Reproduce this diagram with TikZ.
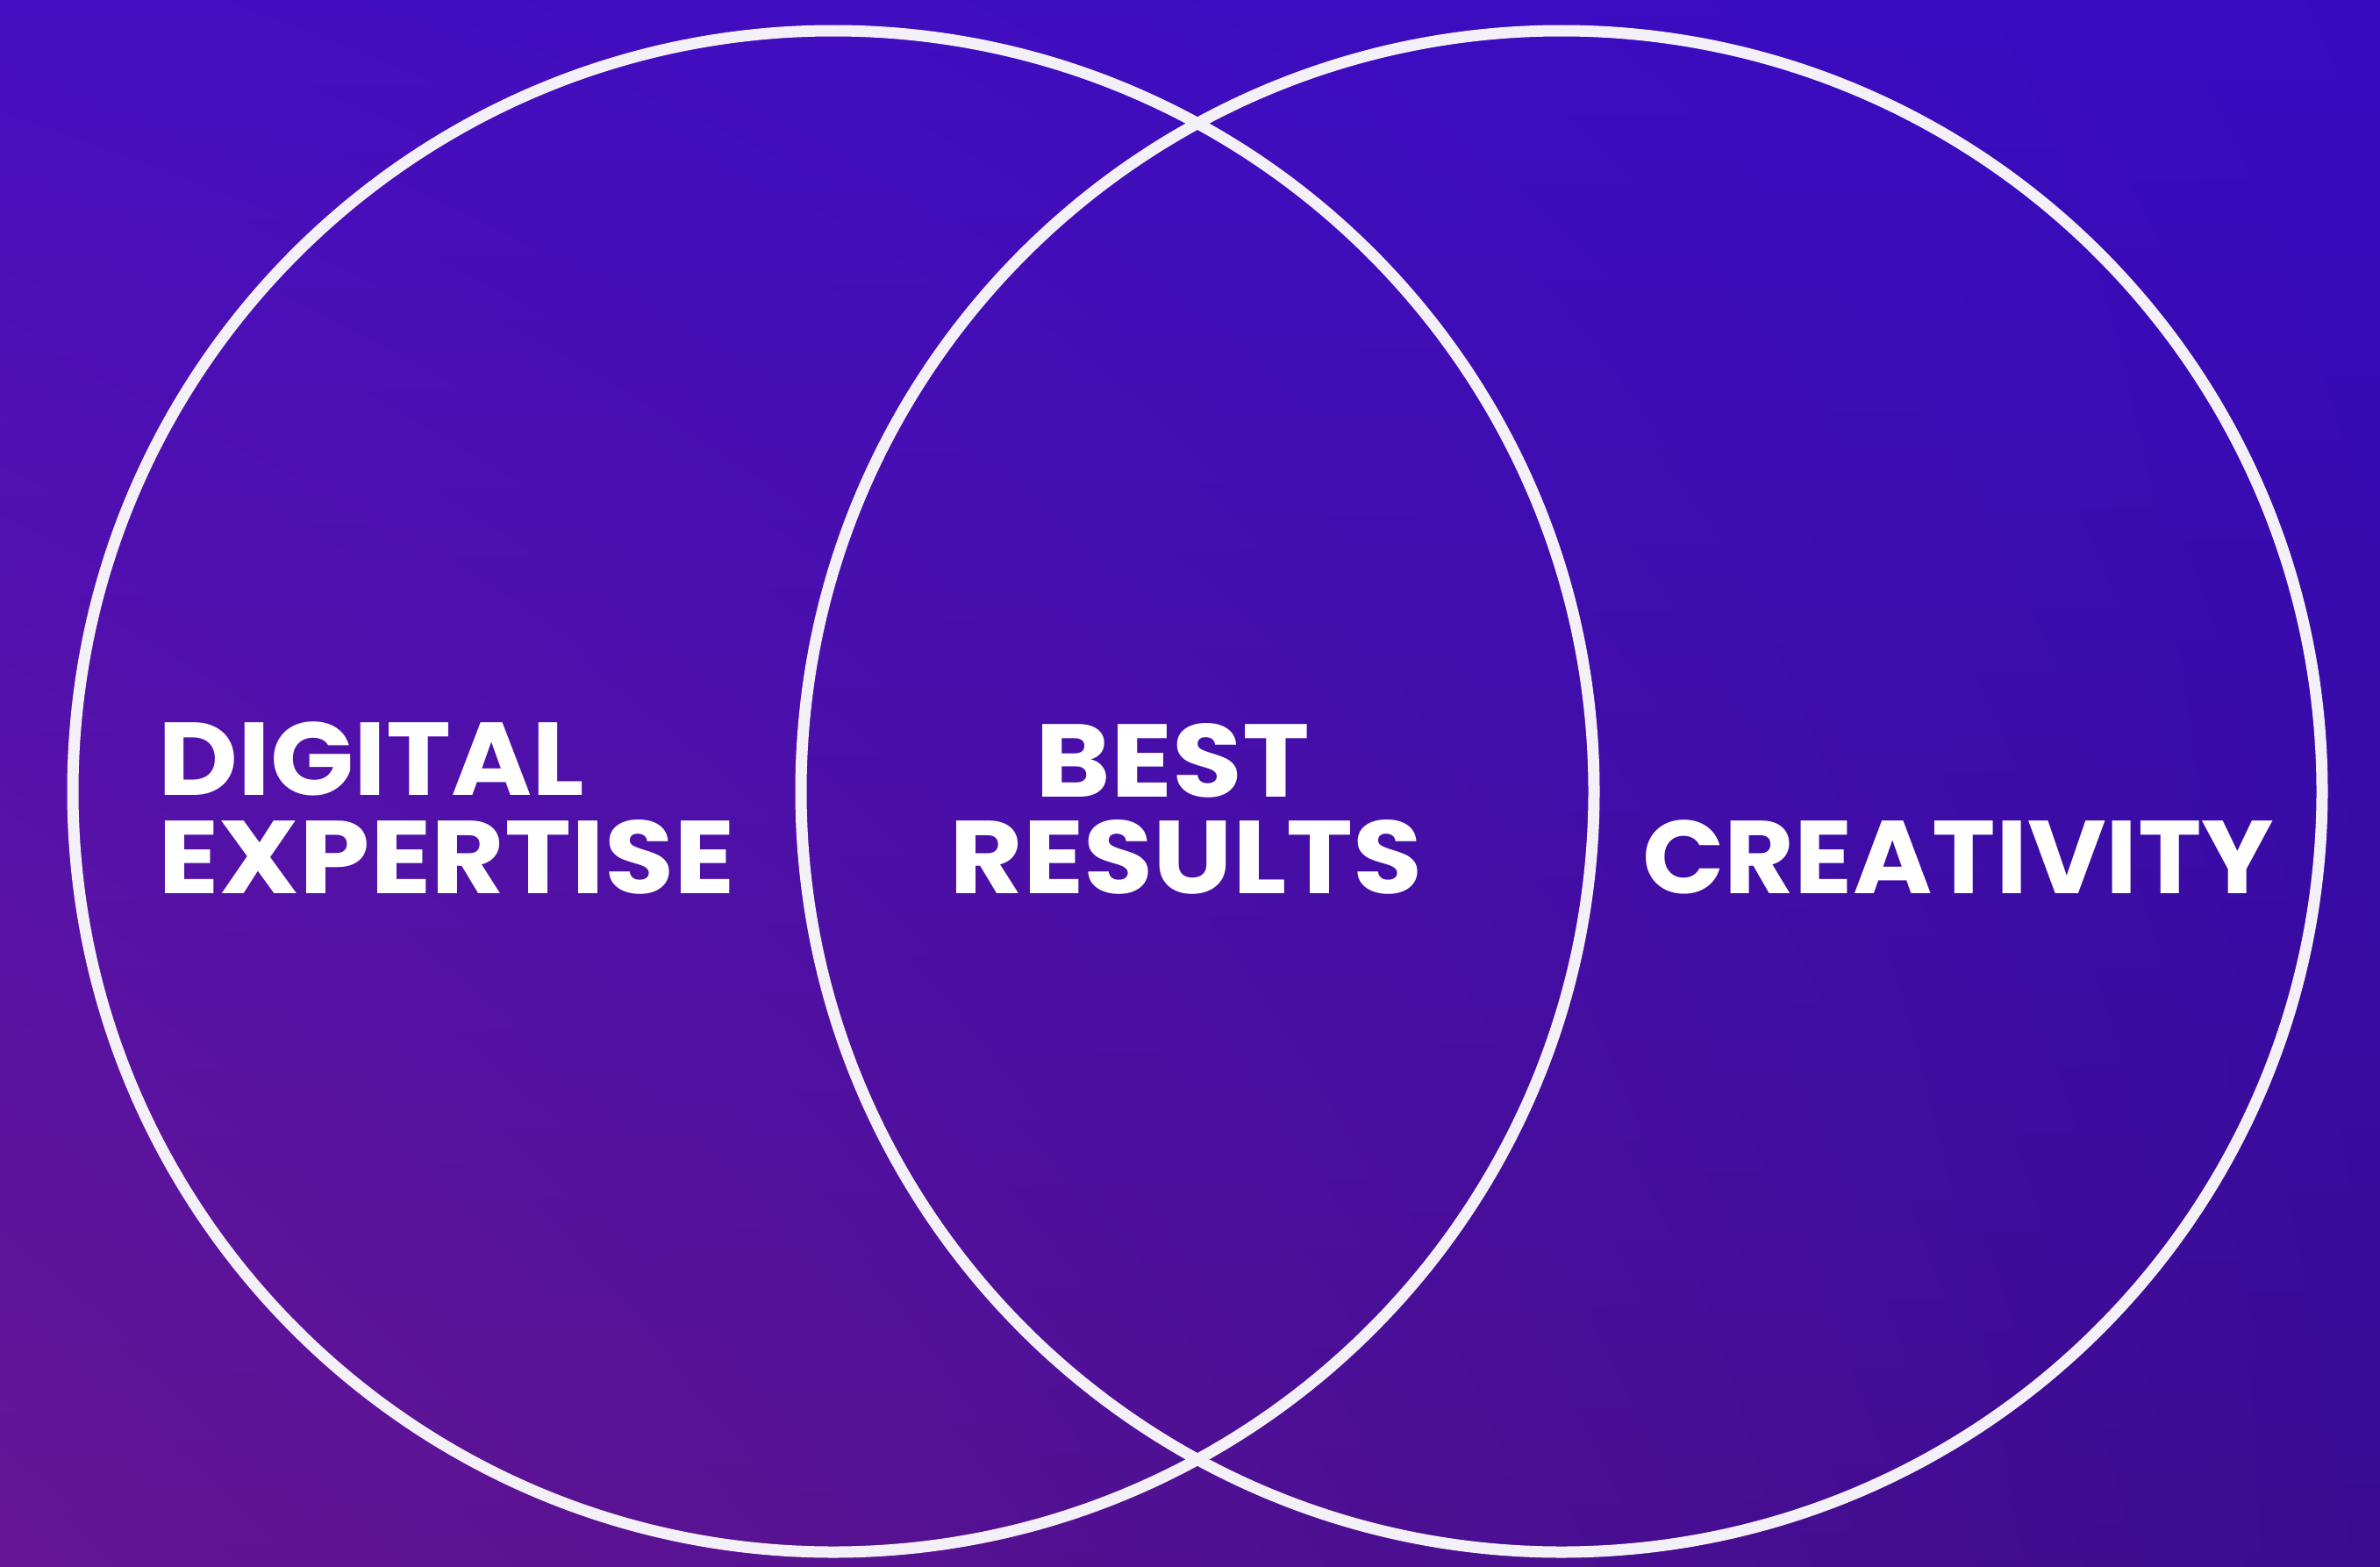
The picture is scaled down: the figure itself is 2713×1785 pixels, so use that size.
\documentclass[tikz,border=0pt]{standalone}
\usepackage{fontspec}
\setmainfont{Poppins}
\usetikzlibrary{shadings}
\definecolor{bgTL}{HTML}{460EC0}
\definecolor{bgTR}{HTML}{360BC0}
\definecolor{bgBL}{HTML}{661592}
\definecolor{bgBR}{HTML}{3A0B90}
\definecolor{ring}{HTML}{F4F0F8}
\begin{document}
\begin{tikzpicture}[x=1pt,y=-1pt,
  ringnode/.style={circle, draw=ring, line width=13pt, minimum size=1734pt, inner sep=0pt},
  lbl/.style={text=white, font=\bfseries\fontsize{118}{112}\selectfont, inner sep=0pt}]
\shade[upper left=bgTL, upper right=bgTR, lower left=bgBL, lower right=bgBR] (0,0) rectangle (2713,1785);
\useasboundingbox (0,0) rectangle (2713,1785);
\node[ringnode] (leftring) at (950,902) {};
\node[ringnode] (rightring) at (1780,902) {};
\node[lbl, anchor=base west] (dig1) at (180,906) {\scalebox{1.06}[1]{DIGITAL}};
\node[lbl, anchor=base west] (dig2) at (180,1018) {\scalebox{1.09}[1]{EXPERTISE}};
\node[lbl, anchor=base] (best1) at (1337,908) {\scalebox{1.10}[1]{BEST}};
\node[lbl, anchor=base] (best2) at (1352,1018) {\scalebox{1.09}[1]{RESULTS}};
\node[lbl, anchor=base] (crea) at (2232,1018) {\scalebox{1.04}[1]{CREATIVITY}};
\end{tikzpicture}
\end{document}
